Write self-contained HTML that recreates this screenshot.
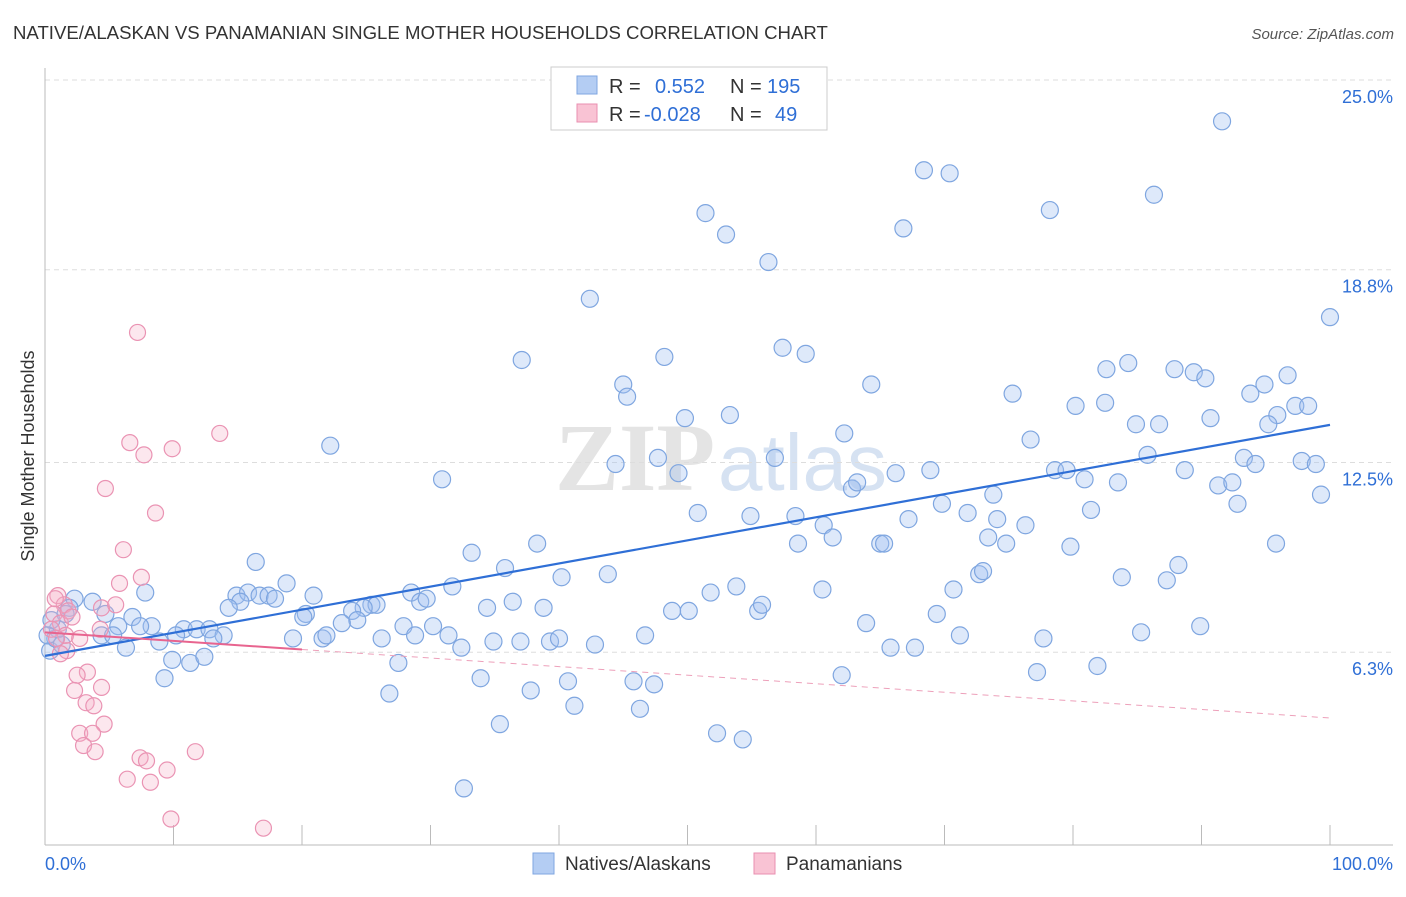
<!DOCTYPE html>
<html><head><meta charset="utf-8"><style>
body{margin:0;background:#fff;width:1406px;height:892px;overflow:hidden;font-family:"Liberation Sans",sans-serif}
</style></head><body>
<svg id="chart" width="1406" height="892" xmlns="http://www.w3.org/2000/svg" font-family="Liberation Sans, sans-serif">
<text x="13" y="39" font-size="18.6" fill="#333">NATIVE/ALASKAN VS PANAMANIAN SINGLE MOTHER HOUSEHOLDS CORRELATION CHART</text>
<text x="1394" y="39" font-size="15" fill="#555" text-anchor="end" font-style="italic">Source: ZipAtlas.com</text>
<g>
<text x="555" y="490" font-size="96" font-family="Liberation Serif, serif" fill="#e4e4e4" font-weight="bold">ZIP</text>
<text x="718" y="490" font-size="80" fill="#d6e2f2">atlas</text>
</g>
<g id="grid"></g><g id="axes"></g><g id="pts"></g><g id="trend"></g>
<text transform="translate(34,456) rotate(-90)" font-size="18" fill="#333" text-anchor="middle">Single Mother Households</text>
<g>
<rect x="551" y="67" width="276" height="63" fill="#fff" stroke="#ccc"/>
<rect x="577" y="76" width="20" height="18" fill="#b4cdf3" stroke="#7fa6e0"/>
<rect x="577" y="104" width="20" height="18" fill="#f9c3d4" stroke="#e98fb0"/>
<text x="609" y="93" font-size="20" fill="#333">R =</text><text x="655" y="93" font-size="20" fill="#2f6fd6">0.552</text>
<text x="730" y="93" font-size="20" fill="#333">N =</text><text x="767" y="93" font-size="20" fill="#2f6fd6">195</text>
<text x="609" y="121" font-size="20" fill="#333">R =</text><text x="644" y="121" font-size="20" fill="#2f6fd6">-0.028</text>
<text x="730" y="121" font-size="20" fill="#333">N =</text><text x="775" y="121" font-size="20" fill="#2f6fd6">49</text>
</g>
<g>
<rect x="533" y="853" width="21" height="21" fill="#b4cdf3" stroke="#7fa6e0"/>
<text x="565" y="870" font-size="19" fill="#333">Natives/Alaskans</text>
<rect x="754" y="853" width="21" height="21" fill="#f9c3d4" stroke="#e98fb0"/>
<text x="786" y="870" font-size="19" fill="#333">Panamanians</text>
</g>
</svg>
<script>
const yTicks=[6.3,12.5,18.8,25.0];
const yTickLabels=["6.3%","12.5%","18.8%","25.0%"];
const xTicks=[0,10,20,30,40,50,60,70,80,90,100];
const blueX=[91.6,68.4,70.4,86.3,51.4,78.2,53.0,66.8,56.3,42.4,100,57.4,59.2,37.1,48.2,84.3,82.6,87.9,89.4,90.3,96.7,45.0,64.3,45.3,75.3,93.8,94.9,80.2,82.5,53.3,49.8,97.3,98.3,95.9,95.2,90.7,84.9,86.7,62.2,76.7,22.2,44.4,47.7,56.8,85.8,93.3,94.2,97.8,98.9,30.9,49.3,66.2,68.9,78.6,79.5,80.9,83.5,88.7,62.8,63.2,91.3,92.4,99.3,73.8,69.8,92.8,81.4,50.8,54.9,58.4,60.6,67.2,71.8,74.1,76.3,73.4,61.3,58.6,65.0,65.3,74.8,79.8,95.8,38.3,33.2,16.4,35.8,40.2,43.8,72.7,73.0,83.8,88.2,87.3,18.8,7.8,31.7,53.8,51.8,60.5,70.7,14.9,15.8,16.7,17.4,17.9,15.2,20.9,28.5,29.2,29.7,25.4,25.8,24.8,23.9,34.4,36.4,38.8,14.3,20.3,20.1,24.3,23.1,48.8,50.1,55.5,55.8,69.4,63.9,89.9,85.3,2.3,3.7,1.9,4.7,6.8,5.7,8.3,7.4,10.8,11.8,12.8,13.9,13.1,8.9,6.3,4.4,5.3,10.2,19.3,21.6,21.9,26.2,27.9,28.8,30.2,31.4,32.4,34.9,37.0,39.3,40.0,42.8,46.7,71.2,77.7,65.8,67.7,9.9,11.3,12.4,27.5,9.3,33.9,40.7,45.8,47.4,62.0,77.2,81.9,26.8,37.8,41.2,46.3,35.4,52.3,54.3,32.6,0.4,0.8,1.0,0.5,1.3,0.2,1.6];
const blueY=[23.65,22.05,21.95,21.25,20.65,20.75,19.95,20.15,19.05,17.85,17.25,16.25,16.05,15.85,15.95,15.75,15.55,15.55,15.45,15.25,15.35,15.05,15.05,14.65,14.75,14.75,15.05,14.35,14.45,14.05,13.95,14.35,14.35,14.05,13.75,13.95,13.75,13.75,13.45,13.25,13.05,12.45,12.65,12.65,12.75,12.65,12.45,12.55,12.45,11.95,12.15,12.15,12.25,12.25,12.25,11.95,11.85,12.25,11.65,11.85,11.75,11.85,11.45,11.45,11.15,11.15,10.95,10.85,10.75,10.75,10.45,10.65,10.85,10.65,10.45,10.05,10.05,9.85,9.85,9.85,9.85,9.75,9.85,9.85,9.55,9.25,9.05,8.75,8.85,8.85,8.95,8.75,9.15,8.65,8.55,8.25,8.45,8.45,8.25,8.35,8.35,8.15,8.25,8.15,8.15,8.05,7.95,8.15,8.25,7.95,8.05,7.85,7.85,7.75,7.65,7.75,7.95,7.75,7.75,7.55,7.45,7.35,7.25,7.65,7.65,7.65,7.85,7.55,7.25,7.15,6.95,8.05,7.95,7.75,7.55,7.45,7.15,7.15,7.15,7.05,7.05,7.05,6.85,6.75,6.65,6.45,6.85,6.85,6.85,6.75,6.75,6.85,6.75,7.15,6.85,7.15,6.85,6.45,6.65,6.65,6.65,6.75,6.55,6.85,6.85,6.75,6.45,6.45,6.05,5.95,6.15,5.95,5.45,5.45,5.35,5.35,5.25,5.55,5.65,5.85,4.95,5.05,4.55,4.45,3.95,3.65,3.45,1.85,6.35,6.75,7.05,7.35,6.55,6.85,7.55];
const pinkX=[7.2,13.6,6.6,9.9,7.7,4.7,8.6,6.1,7.5,5.8,1.0,1.5,0.7,1.8,4.4,5.5,1.2,2.1,0.5,1.6,2.7,4.3,0.9,1.7,3.3,4.4,2.3,2.5,3.2,3.8,4.6,2.7,3.7,3.0,3.9,7.4,7.9,11.7,9.5,6.4,8.2,9.8,17.0,0.8,1.2];
const pinkY=[16.75,13.45,13.15,12.95,12.75,11.65,10.85,9.65,8.75,8.55,8.15,7.85,7.55,7.65,7.75,7.85,7.25,7.45,7.05,6.85,6.75,7.05,6.75,6.35,5.65,5.15,5.05,5.55,4.65,4.55,3.95,3.65,3.65,3.25,3.05,2.85,2.75,3.05,2.45,2.15,2.05,0.85,0.55,8.05,6.25];
const blueTrend=[6.18,13.73];   // value at x=0, x=100
const pinkTrend=[6.95,4.15];    // value at x=0, x=100
const pinkSolidEnd=20;

const NS="http://www.w3.org/2000/svg";
const X0=45,X1=1330,YTOP=80,PX_PER=30.6;
const xs=v=>X0+(X1-X0)*v/100;
const ys=v=>YTOP+(25-v)*PX_PER;
function mk(tag,attrs,parent){const e=document.createElementNS(NS,tag);for(const k in attrs)e.setAttribute(k,attrs[k]);parent.appendChild(e);return e;}
const grid=document.getElementById('grid'),axes=document.getElementById('axes'),pts=document.getElementById('pts'),trend=document.getElementById('trend');
yTicks.forEach((t,i)=>{
  const l=mk('line',{x1:45,x2:1393,y1:ys(t),y2:ys(t),stroke:'#ddd','stroke-dasharray':'5,4'},grid);
  
  
  const tx=mk('text',{x:1393,y:ys(t)+23,'font-size':18,fill:'#2f6fd6','text-anchor':'end'},grid);
  tx.textContent=yTickLabels[i];
  
  
});
const xa=mk('line',{x1:45,x2:1393,y1:845,y2:845,stroke:'#bbb'},axes);


const ya=mk('line',{x1:45,x2:45,y1:68,y2:845,stroke:'#bbb'},axes);


xTicks.forEach(t=>{
  const l=mk('line',{x1:xs(t),x2:xs(t),y1:825,y2:845,stroke:'#bbb'},axes);
  
  
});
const xl0=mk('text',{x:45,y:870,'font-size':18,fill:'#2f6fd6'},axes);xl0.textContent='0.0%';


const xl1=mk('text',{x:1393,y:870,'font-size':18,fill:'#2f6fd6','text-anchor':'end'},axes);xl1.textContent='100.0%';


blueX.forEach((x,i)=>{
  const c=mk('circle',{cx:xs(x),cy:ys(blueY[i]),r:8.5,fill:'rgba(160,192,240,0.35)',stroke:'#7fa6e0','stroke-width':1.2},pts);
  
  
});
pinkX.forEach((x,i)=>{
  const c=mk('circle',{cx:xs(x),cy:ys(pinkY[i]),r:8,fill:'rgba(246,175,200,0.3)',stroke:'#ea93b3','stroke-width':1.2},pts);
  
  
});
const bt=mk('line',{x1:xs(0),y1:ys(blueTrend[0]),x2:xs(100),y2:ys(blueTrend[1]),stroke:'#2f6fd6','stroke-width':2.2},trend);


const pv=x=>pinkTrend[0]+(pinkTrend[1]-pinkTrend[0])*x/100;
const pt=mk('line',{x1:xs(0),y1:ys(pv(0)),x2:xs(pinkSolidEnd),y2:ys(pv(pinkSolidEnd)),stroke:'#e8648f','stroke-width':2},trend);


const pd=mk('line',{x1:xs(pinkSolidEnd),y1:ys(pv(pinkSolidEnd)),x2:xs(100),y2:ys(pv(100)),stroke:'#eda0ba','stroke-width':1,'stroke-dasharray':'6,5'},trend);


</script>
</body></html>
